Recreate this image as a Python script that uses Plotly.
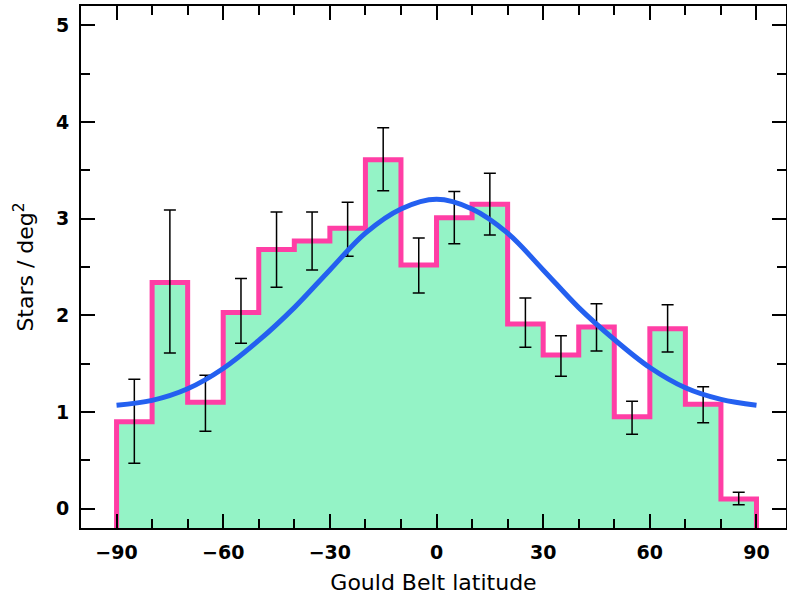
import plotly.graph_objects as go

# ---- data ----
bin_edges = [-90, -80, -70, -60, -50, -40, -30, -20, -10, 0, 10, 20, 30, 40, 50, 60, 70, 80, 90]
density = [0.90, 2.34, 1.10, 2.03, 2.68, 2.77, 2.90, 3.61, 2.52, 3.01, 3.15, 1.91, 1.59, 1.88, 0.95, 1.86, 1.08, 0.10]
err_hi = [1.34, 3.09, 1.38, 2.38, 3.07, 3.07, 3.17, 3.94, 2.80, 3.28, 3.47, 2.18, 1.79, 2.12, 1.11, 2.11, 1.26, 0.17]
err_lo = [0.47, 1.61, 0.80, 1.71, 2.29, 2.47, 2.61, 3.29, 2.23, 2.74, 2.83, 1.67, 1.37, 1.63, 0.77, 1.62, 0.89, 0.04]

curve_x = [-90, -80, -70, -60, -50, -40, -30, -20, -10, 0, 10, 20, 30, 40, 50, 60, 70, 80, 90]
curve_y = [1.07, 1.12, 1.24, 1.45, 1.74, 2.08, 2.47, 2.85, 3.10, 3.20, 3.10, 2.85, 2.47, 2.08, 1.75, 1.46, 1.25, 1.13, 1.07]

x_ticks = [-90, -60, -30, 0, 30, 60, 90]
y_ticks = [0, 1, 2, 3, 4, 5]
x_range = [-100, 98.3]
y_range = [-0.2, 5.2]

# ---- build step outline from the bins ----
base = y_range[0]
step_x = [bin_edges[0]]
step_y = [base]
for i, v in enumerate(density):
    step_x += [bin_edges[i], bin_edges[i + 1]]
    step_y += [v, v]
step_x.append(bin_edges[-1])
step_y.append(base)

centers = [(bin_edges[i] + bin_edges[i + 1]) / 2 for i in range(len(density))]

fig = go.Figure()
fig.add_trace(go.Scatter(
    x=step_x, y=step_y, mode="lines", fill="toself",
    fillcolor="#94F3C6", line=dict(color="#FF3EA5", width=5),
    hoverinfo="skip", showlegend=False))

fig.add_trace(go.Scatter(
    x=centers, y=density, mode="markers", marker=dict(size=0.1, color="rgba(0,0,0,0)"),
    error_y=dict(type="data", symmetric=False,
                 array=[h - v for h, v in zip(err_hi, density)],
                 arrayminus=[v - l for l, v in zip(err_lo, density)],
                 color="black", thickness=1.5, width=6),
    showlegend=False))

fig.add_trace(go.Scatter(
    x=curve_x, y=curve_y, mode="lines", line=dict(color="#2460F0", width=5, shape="spline"),
    showlegend=False))

axis_common = dict(
    showline=True, linecolor="black", linewidth=2, mirror="ticks",
    ticks="inside", ticklen=14, tickwidth=2, tickcolor="black",
    showgrid=False, zeroline=False, automargin=False,
    tickfont=dict(family="DejaVu Sans", size=19, color="black", weight="bold"),
)

fig.update_xaxes(
    range=x_range, tickvals=x_ticks, ticklabelstandoff=6,
    minor=dict(ticks="inside", dtick=10, tick0=0, ticklen=9, tickwidth=1.5, tickcolor="black"),
    title=dict(text="Gould Belt latitude", font=dict(family="DejaVu Sans", size=22, color="black"), standoff=13),
    **axis_common)
fig.update_yaxes(
    range=y_range, tickvals=y_ticks, ticklabelstandoff=6,
    minor=dict(ticks="inside", dtick=0.5, tick0=0, ticklen=9, tickwidth=1.5, tickcolor="black"),
    title=dict(text="Stars / deg<sup>2</sup>", font=dict(family="DejaVu Sans", size=22, color="black"), standoff=16),
    **axis_common)

fig.update_layout(
    width=787, height=599,
    margin=dict(l=81, r=1, t=6, b=71),
    plot_bgcolor="white", paper_bgcolor="white",
)

fig.write_html("out.html", config={"displayModeBar": False},
               post_script="document.body.style.margin='0';document.body.style.overflow='hidden';")
